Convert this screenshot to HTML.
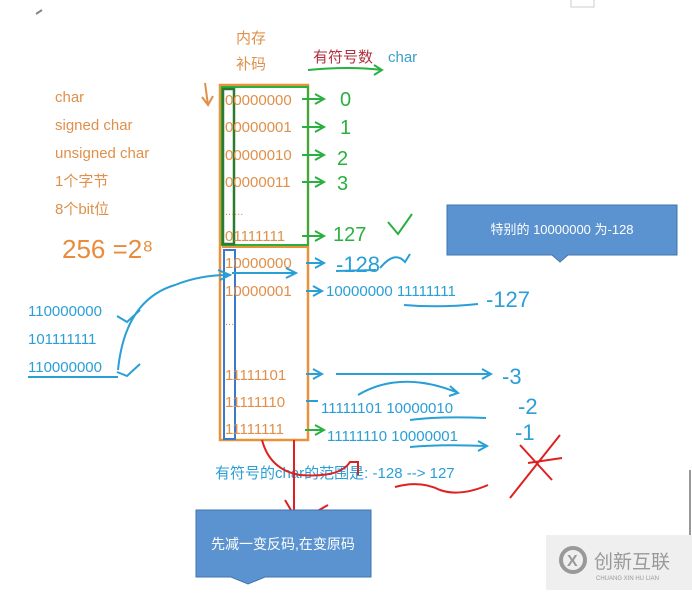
<!DOCTYPE html>
<html><head><meta charset="utf-8"><style>
body{margin:0;background:#fff;width:692px;height:590px;overflow:hidden}
text{font-family:"Liberation Sans","Noto Sans CJK SC",sans-serif}
</style></head><body>
<svg width="692" height="590" viewBox="0 0 692 590" xmlns="http://www.w3.org/2000/svg">
<path d="M571 0 V7 H594 V0" fill="none" stroke="#ccc"/>
<path d="M36 14 L42 10" stroke="#888" stroke-width="2"/>
<g fill="#e0904a" font-size="15">
<text x="55" y="102">char</text>
<text x="55" y="130">signed char</text>
<text x="55" y="158">unsigned char</text>
<text x="55" y="186">1个字节</text>
<text x="55" y="214">8个bit位</text>
<text x="236" y="43">内存</text>
<text x="236" y="69">补码</text>
</g>
<text x="313" y="62" font-size="15" fill="#b03040">有符号数</text>
<path d="M308 70 Q350 66 382 70" stroke="#2ab040" stroke-width="2" fill="none"/>
<path d="M374 65 L382 70 L374 75" stroke="#2ab040" stroke-width="2" fill="none"/>
<text x="388" y="62" font-size="15" fill="#3aa0c8">char</text>
<path d="M205 83 L208 105 M202 97 L208 105 L213 96" stroke="#e0904a" stroke-width="2" fill="none"/>
<text x="62" y="258" font-size="26" fill="#e88c3c">256 =2⁸</text>
<rect x="220" y="85" width="88" height="355" fill="none" stroke="#e8923a" stroke-width="2.5"/>
<rect x="222" y="87" width="86" height="158" fill="none" stroke="#2ab040" stroke-width="2"/>
<rect x="223" y="89" width="11" height="155" fill="none" stroke="#2a7a30" stroke-width="2.5"/>
<rect x="224" y="250" width="11" height="189" fill="none" stroke="#3a7acc" stroke-width="2"/>
<line x1="222" y1="247" x2="308" y2="247" stroke="#e8923a" stroke-width="2"/>
<g fill="#e0904a" font-size="15">
<text x="225" y="105">00000000</text><text x="225" y="132">00000001</text>
<text x="225" y="160">00000010</text><text x="225" y="187">00000011</text>
<text x="225" y="215" font-size="11">......</text>
<text x="225" y="241">01111111</text><text x="225" y="268">10000000</text>
<text x="225" y="296">10000001</text><text x="225" y="325" font-size="11">...</text>
<text x="225" y="380">11111101</text><text x="225" y="407">11111110</text>
<text x="225" y="434">11111111</text>
</g>
<g stroke="#2ab040" stroke-width="2" fill="none">
<path d="M302 99 H322 M315 94 L324 99 L315 104"/><path d="M302 127 H322 M315 122 L324 127 L315 132"/>
<path d="M302 155 H322 M315 150 L324 155 L315 160"/><path d="M302 182 H322 M315 177 L324 182 L315 187"/>
<path d="M302 236 H322 M315 231 L324 236 L315 241"/><path d="M305 430 H322 M315 425 L324 430 L315 435"/>
<path d="M388 222 L398 234 L412 214"/>
</g>
<g fill="#2ab040" font-size="20">
<text x="340" y="106">0</text><text x="340" y="134">1</text><text x="337" y="165">2</text>
<text x="337" y="190">3</text><text x="333" y="241">127</text>
</g>
<g stroke="#2a9fd6" stroke-width="2" fill="none">
<path d="M306 263 H322 M315 258 L324 263 L315 268"/><path d="M306 291 H320 M313 286 L322 291 L313 296"/>
<path d="M306 374 H320 M313 369 L322 374 L313 379"/><path d="M306 401 H318"/>
<path d="M336 374 H490 M482 369 L491 374 L482 379"/>
<path d="M358 395 Q400 370 456 392 M450 386 L458 393 L449 396"/>
<path d="M404 305 Q440 308 478 304"/><path d="M410 420 Q440 416 486 418"/>
<path d="M410 447 Q440 444 486 446 M478 441 L487 446 L478 451"/>
<path d="M336 271 L376 270"/><path d="M380 268 Q395 250 405 262 L410 254"/>
<path d="M118 370 Q125 300 175 285 Q200 275 228 275 M218 270 L230 275 L220 280"/>
<path d="M232 273 H295 M286 268 L296 273 L286 278"/>
<path d="M117 316 L127 322 L140 310"/><path d="M117 372 L127 376 L140 364"/>
<path d="M28 377 H118"/>
</g>
<g fill="#2a9fd6" font-size="15">
<text x="326" y="296">10000000 11111111</text>
<text x="321" y="413">11111101  10000010</text>
<text x="327" y="441">11111110  10000001</text>
<text x="28" y="316">110000000</text><text x="28" y="344">101111111</text><text x="28" y="372">110000000</text>
<text x="215" y="478">有符号的char的范围是: -128 --> 127</text>
</g>
<g fill="#2a9fd6" font-size="22">
<text x="336" y="272">-128</text><text x="486" y="307">-127</text>
<text x="502" y="384">-3</text><text x="518" y="414">-2</text><text x="515" y="440">-1</text>
</g>
<g stroke="#e02020" stroke-width="2" fill="none">
<path d="M262 440 Q270 470 300 475 Q340 478 350 462 H358 V475"/>
<path d="M294 440 V520 M285 500 L298 522 L328 505"/>
<path d="M395 487 Q420 480 440 490 Q460 497 488 485"/>
<path d="M510 498 L560 435 M520 445 L552 480 M528 463 L562 458"/>
</g>
<path d="M447 205 H677 V255 H568 L560 262 L552 255 H447 Z" fill="#5b93d0" stroke="#3f74b0"/>
<text x="562" y="234" font-size="13" fill="#fff" text-anchor="middle">特别的 10000000 为-128</text>
<path d="M196 510 H371 V577 H265 L248 584 L231 577 H196 Z" fill="#5b93d0" stroke="#3f74b0"/>
<text x="283" y="549" font-size="14" fill="#fff" text-anchor="middle" font-family="Noto Serif CJK SC,serif">先减一变反码,在变原码</text>
<rect x="546" y="535" width="146" height="55" fill="#efefef"/>
<circle cx="573" cy="560" r="12" fill="none" stroke="#999" stroke-width="4"/>
<text x="567" y="566" font-size="16" fill="#999" font-weight="bold">X</text>
<text x="594" y="568" font-size="19" fill="#999">创新互联</text>
<text x="596" y="580" font-size="6" fill="#999">CHUANG XIN HU LIAN</text>
<line x1="690" y1="470" x2="690" y2="535" stroke="#333" stroke-width="1"/>
</svg>
</body></html>
